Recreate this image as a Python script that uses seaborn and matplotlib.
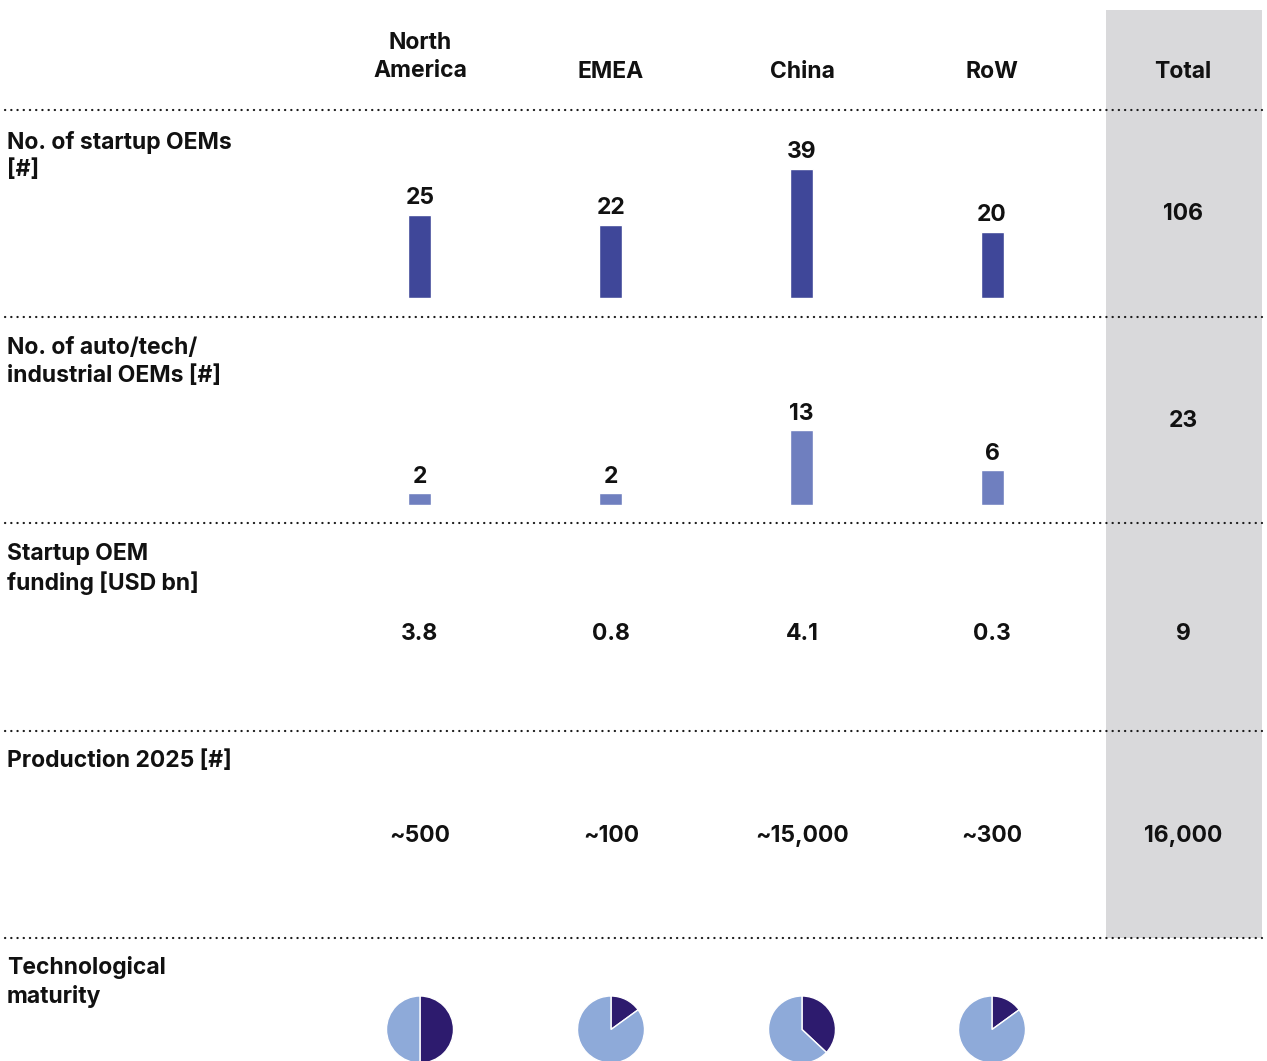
import matplotlib
matplotlib.use("Agg")
import matplotlib.pyplot as plt
import seaborn as sns
import pandas as pd
from matplotlib.patches import Rectangle

# ---- data ----
regions = ["North\nAmerica", "EMEA", "China", "RoW"]
total_header = "Total"
startup_oems = [25, 22, 39, 20]
startup_total = "106"
auto_oems = [2, 2, 13, 6]
auto_total = "23"
funding = ["3.8", "0.8", "4.1", "0.3"]
funding_total = "9"
production = ["~500", "~100", "~15,000", "~300"]
production_total = "16,000"
maturity_dark = [50, 15, 37, 15]  # share in dark colour (%)
row_labels = ["No. of startup OEMs\n[#]",
              "No. of auto/tech/\nindustrial OEMs [#]",
              "Startup OEM\nfunding [USD bn]",
              "Production 2025 [#]",
              "Technological\nmaturity"]

sns.set_theme(style="white")
plt.rcParams['font.family'] = ['Inter', 'DejaVu Sans']

W, H = 1267, 1061
fig = plt.figure(figsize=(W / 100, H / 100), dpi=100)
fig.patch.set_facecolor("white")

def rect(x0, y0, x1, y1):
    return [x0 / W, 1 - y1 / H, (x1 - x0) / W, (y1 - y0) / H]

bg = fig.add_axes([0, 0, 1, 1])
bg.set_xlim(0, W)
bg.set_ylim(H, 0)
bg.axis("off")

# Total column background
bg.add_patch(Rectangle((1106, 10), 156, 928, facecolor="#d9d9db", edgecolor="none", zorder=0))

# dotted separators
for y in [110, 317, 523, 731, 938]:
    bg.plot([5, 1262], [y, y], color="#1a1a1a", lw=1.6, linestyle=(0, (0.1, 2.7)),
            dash_capstyle="round", zorder=2)

col_x = [420, 611, 802, 992]
tot_x = 1183
fs = 16.5
ls = 1.3
txt = dict(fontsize=fs, fontweight="bold", color="#111111", ha="center", va="center")

# headers
for x, r in zip(col_x, regions):
    y = 57 if "\n" in r else 72
    bg.text(x, y, r, linespacing=ls, **txt)
bg.text(tot_x, 72, total_header, **txt)

# row labels
label_y = [156, 362, 569, 761, 982]
for y, lab in zip(label_y, row_labels):
    bg.text(7, y, lab, fontsize=fs, fontweight="bold", color="#111111",
            ha="left", va="center", linespacing=ls)

# bar rows
bar_left, bar_right = 324.5, 1087.5

def bar_row(values, color, base_y, top_y, px_per_unit):
    ax = fig.add_axes(rect(bar_left, top_y, bar_right, base_y))
    df = pd.DataFrame({"region": regions, "value": values})
    sns.barplot(data=df, x="region", y="value", ax=ax, color=color,
                saturation=1, width=0.12)
    ax.set_xlim(-0.5, 3.5)
    ax.set_ylim(0, (base_y - top_y) / px_per_unit)
    ax.bar_label(ax.containers[0], padding=4, fontsize=fs, fontweight="bold",
                 color="#111111")
    ax.axis("off")
    ax.patch.set_alpha(0)
    return ax

bar_row(startup_oems, "#3f4799", 298, 112, 3.32)
bar_row(auto_oems, "#6f7fbf", 505, 319, 5.75)

bg.text(tot_x, 214, startup_total, **txt)
bg.text(tot_x, 421, auto_total, **txt)

# funding & production rows
for x, v in zip(col_x, funding):
    bg.text(x, 634, v, **txt)
bg.text(tot_x, 634, funding_total, **txt)
for x, v in zip(col_x, production):
    bg.text(x, 836, v, **txt)
bg.text(tot_x, 836, production_total, **txt)

# maturity pies
r = 33.5
cy = 1029.5
for x, d in zip(col_x, maturity_dark):
    pax = fig.add_axes(rect(x - r, cy - r, x + r, cy + r))
    pax.pie([d, 100 - d], colors=["#2d1b6e", "#8eaad9"], startangle=90,
            counterclock=False, radius=1,
            wedgeprops=dict(edgecolor="white", linewidth=1))
    pax.set_xlim(-1, 1)
    pax.set_ylim(-1, 1)
    pax.set_aspect("equal")
    pax.axis("off")

fig.savefig("out.png", dpi=100)
